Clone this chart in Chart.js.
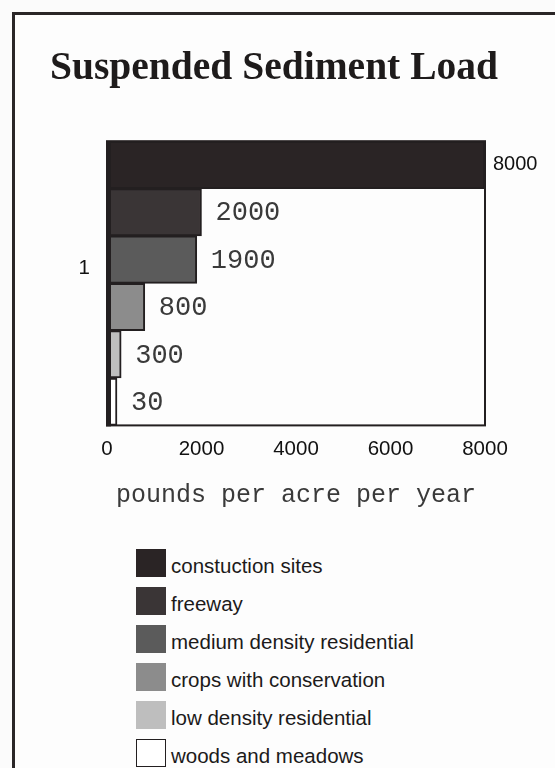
<!DOCTYPE html>
<html>
<head>
<meta charset="utf-8">
<script src="https://cdn.jsdelivr.net/npm/chart.js@4.4.1/dist/chart.umd.min.js"></script>
<style>
    html, body { margin: 0; padding: 0; background: #fbfbfb; }
    #page { position: relative; width: 555px; height: 768px; overflow: hidden; }
    #frame { position: absolute; left: 12px; top: 12px; width: 600px; height: 800px;
             border-top: 3px solid #2a2627; border-left: 3px solid #2a2627; background: #fdfdfd; }
    #chart-wrap { position: absolute; left: 0; top: 0; width: 555px; height: 530px; }
    #legend { position: absolute; left: 136px; top: 549px; font-family: "Liberation Sans", Arial, sans-serif;
              font-size: 20.5px; color: #1c1a1a; }
    .legend-item { display: flex; align-items: flex-start; height: 28px; margin-bottom: 10px; }
    .legend-box { width: 30px; height: 28px; box-sizing: border-box; }
    .legend-text { margin-left: 5px; line-height: 28px; position: relative; top: 3px; white-space: nowrap; }
</style>
</head>
<body>
<div id="page">
    <div id="frame"></div>
    <div id="chart-wrap"><canvas id="chart"></canvas></div>
    <div id="legend"></div>
</div>
<script>
const categories = ['1'];
const landUses = ['constuction sites', 'freeway', 'medium density residential', 'crops with conservation', 'low density residential', 'woods and meadows'];
const sedimentLoads = [8000, 2000, 1900, 800, 300, 30];
const xTicks = [0, 2000, 4000, 6000, 8000];

const fills = ['#2a2425', '#3a3536', '#5b5b5b', '#8c8c8c', '#bebebe', '#ffffff'];
const edge = '#231f20';

function ready( fn ) {
    if ( document.readyState !== 'loading' ){
        fn();
    } else {
        document.addEventListener( 'DOMContentLoaded', fn );
    }
}

// box round the plot, thicker on the left like the print
const plotFrame = {
    id: 'plotFrame',
    afterDatasetsDraw( chart ) {
        const { ctx, chartArea: a } = chart;
        ctx.save();
        ctx.strokeStyle = edge;
        ctx.lineWidth = 2;
        ctx.strokeRect( a.left, a.top, a.right - a.left, a.bottom - a.top );
        ctx.fillStyle = edge;
        ctx.fillRect( a.left - 1, a.top, 5, a.bottom - a.top + 1 );
        ctx.restore();
    }
};

// value written next to the end of each bar
const barValues = {
    id: 'barValues',
    afterDatasetsDraw( chart ) {
        const ctx = chart.ctx;
        ctx.save();
        ctx.textBaseline = 'middle';
        ctx.textAlign = 'left';
        chart.data.datasets.forEach( ( ds, i ) => {
            const bar = chart.getDatasetMeta( i ).data[0];
            if ( i === 0 ) {
                ctx.font = '20px "Liberation Sans", Arial, sans-serif';
                ctx.fillStyle = '#111';
                ctx.fillText( String( ds.data[0] ), bar.x + 8, bar.y );
            } else {
                ctx.font = '27px "Liberation Mono", "Courier New", monospace';
                ctx.fillStyle = '#3a3a3a';
                ctx.fillText( String( ds.data[0] ), bar.x + 14, bar.y + 1 );
            }
        } );
        ctx.restore();
    }
};

ready( function(){
    const datasets = landUses.map( ( name, i ) => ({
        label: name,
        data: [ sedimentLoads[i] ],
        backgroundColor: fills[i],
        borderColor: edge,
        borderWidth: 2,
        borderSkipped: false,
        categoryPercentage: 1,
        barPercentage: 1,
        minBarLength: 10
    }) );

    new Chart( document.getElementById( 'chart' ), {
        type: 'bar',
        data: { labels: categories, datasets },
        plugins: [ plotFrame, barValues ],
        options: {
            indexAxis: 'y',
            responsive: true,
            maintainAspectRatio: false,
            animation: false,
            layout: { padding: { left: 50, right: 57, top: 0, bottom: 20 } },
            plugins: {
                legend: { display: false },
                tooltip: { enabled: false },
                title: {
                    display: true,
                    text: 'Suspended Sediment Load',
                    color: '#1e1b1b',
                    font: { family: '"Liberation Serif", "Times New Roman", serif', size: 41, weight: 'bold' },
                    padding: { top: 44, bottom: 48 }
                }
            },
            scales: {
                x: {
                    min: 0,
                    max: 8000,
                    afterBuildTicks: s => { s.ticks = xTicks.map( v => ({ value: v }) ); },
                    grid: { display: false, drawTicks: false },
                    border: { display: false },
                    ticks: {
                        padding: 12,
                        color: '#111',
                        font: { family: '"Liberation Sans", Arial, sans-serif', size: 20.5 },
                        callback: v => String( v )
                    },
                    title: {
                        display: true,
                        text: 'pounds per acre per year',
                        color: '#3a3a3a',
                        font: { family: '"Liberation Mono", "Courier New", monospace', size: 25 },
                        padding: { top: 6, bottom: 0 }
                    }
                },
                y: {
                    afterFit: s => { s.width = 57; },
                    grid: { display: false, drawTicks: false },
                    border: { display: false },
                    ticks: {
                        padding: 17,
                        labelOffset: -15,
                        color: '#111',
                        font: { family: '"Liberation Sans", Arial, sans-serif', size: 20.5 }
                    }
                },
                // empty strip on the right so the plot ends where the print does
                yRight: {
                    position: 'right',
                    afterFit: s => { s.width = 13; },
                    grid: { display: false, drawTicks: false },
                    border: { display: false },
                    ticks: { display: false }
                }
            }
        }
    } );

    const legend = document.getElementById( 'legend' );
    landUses.forEach( ( name, i ) => {
        const item = document.createElement( 'div' );
        item.className = 'legend-item';
        const box = document.createElement( 'div' );
        box.className = 'legend-box';
        box.style.background = fills[i];
        if ( fills[i] === '#ffffff' ) box.style.border = '1.5px solid ' + edge;
        const text = document.createElement( 'span' );
        text.className = 'legend-text';
        text.textContent = name;
        item.appendChild( box );
        item.appendChild( text );
        legend.appendChild( item );
    } );
} );
</script>
</body>
</html>
